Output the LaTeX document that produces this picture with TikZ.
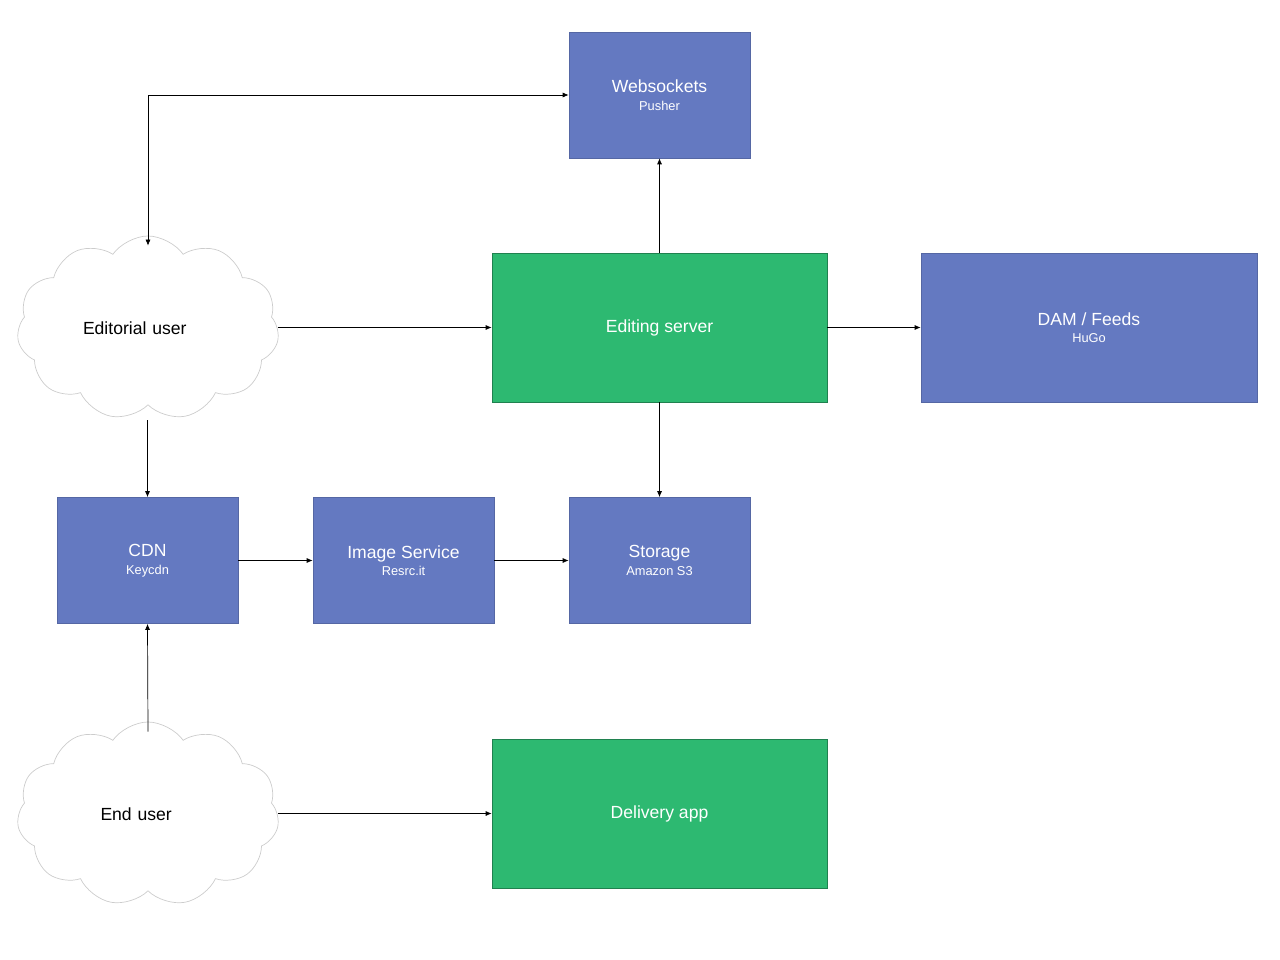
\documentclass[tikz,border=0pt]{standalone}
\usepackage{fontspec}
\setmainfont{Liberation Sans}
\usetikzlibrary{positioning,shapes.symbols,arrows.meta}
\definecolor{boxblue}{HTML}{6479C1}
\definecolor{boxgreen}{HTML}{2DB971}
\tikzset{%
	service/.style = {draw=boxblue!85!black, fill=boxblue, text=white, minimum width=3.62cm, minimum height=2.52cm, align=center, font=\fontsize{10}{12}\selectfont},
	server/.style  = {draw=boxgreen!70!black, fill=boxgreen, text=white, minimum width=6.7cm, minimum height=2.98cm, align=center, font=\fontsize{10}{12}\selectfont},
	user/.style    = {draw=black!20, cloud, cloud puffs=11, cloud puff arc=110, aspect=1.4, minimum width=5.24cm, minimum height=3.68cm, inner sep=0pt, font=\fontsize{10}{12}\selectfont},
	arrow/.style   = {-{Latex[length=1.2mm,width=1mm]}, thin},
}
\newcommand{\sub}[1]{\\[-2pt]{\fontsize{7.3}{9}\selectfont #1}}
\begin{document}
\begin{tikzpicture}
	\useasboundingbox (0,0) rectangle (25.6,-19.2);
	\node [service] (ws) at (13.19,-1.9) {Websockets\sub{Pusher}};
	\node [server] (edit) at (13.19,-6.55) {Editing server};
	\node [service, minimum width=6.72cm, minimum height=2.98cm] (dam) at (21.78,-6.55) {DAM / Feeds\sub{HuGo}};
	\node [service] (cdn) at (2.95,-11.21) {CDN\sub{Keycdn}};
	\node [service] (img) at (8.07,-11.21) {Image Service\sub{Resrc.it}};
	\node [service] (store) at (13.19,-11.21) {Storage\sub{Amazon S3}};
	\node [server] (deliv) at (13.19,-16.27) {Delivery app};
	\node [user, text width=2.6cm, align=left] (editor) at (2.96,-6.56) {Editorial user};
	\node [user, text width=2.6cm, align=left] (enduser) at (2.96,-16.28) {\hspace*{3.5mm}End user};

	\draw[arrow, {Latex[length=1.2mm,width=1mm]}-{Latex[length=1.2mm,width=1mm]}] ([yshift=-2mm]editor.north) |- (ws.west);
	\draw[arrow] (editor.east |- edit.west) -- (edit.west);
	\draw[arrow] (edit) -- (ws);
	\draw[arrow] (edit) -- (dam);
	\draw[arrow] (edit) -- (store);
	\draw[arrow] ([yshift=-3mm]editor.south -| cdn.north) -- (cdn.north);
	\draw[arrow] (cdn) -- (img);
	\draw[arrow] (img) -- (store);
	\draw[arrow] ([yshift=-2mm]enduser.north) -- (cdn.south);
	\draw[arrow] (enduser.east |- deliv.west) -- (deliv.west);
\end{tikzpicture}
\end{document}
